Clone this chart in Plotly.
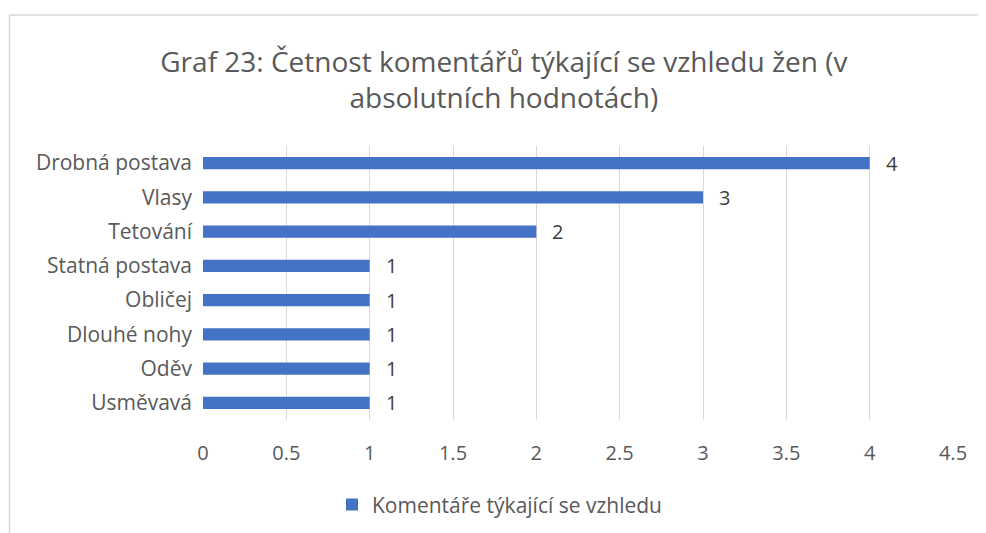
import plotly.graph_objects as go

categories = ["Drobná postava", "Vlasy", "Tetování", "Statná postava", "Obličej",
              "Dlouhé nohy", "Oděv", "Usměvavá"]
values = [4, 3, 2, 1, 1, 1, 1, 1]
tick_vals = [0, 0.5, 1, 1.5, 2, 2.5, 3, 3.5, 4, 4.5]
tick_text = ["0", "0.5", "1", "1.5", "2", "2.5", "3", "3.5", "4", "4.5"]
series_name = "Komentáře týkající se vzhledu"
title_text = "Graf 23: Četnost komentářů týkající se vzhledu žen (v<br>absolutních hodnotách)"

FONT = "Open Sans"
GREY = "#595959"

fig = go.Figure()
fig.add_trace(go.Bar(
    y=categories, x=values, orientation="h", name=series_name,
    marker=dict(color="#4472C4", line=dict(width=0)),
    width=0.36,
))

for c, v in zip(categories, values):
    fig.add_annotation(x=v, y=c, text=str(v), showarrow=False, xanchor="left",
                       xshift=14, font=dict(family=FONT, size=20, color="#404040"))

# chart frame (left and top edges visible)
fig.add_shape(type="line", xref="paper", yref="paper", x0=-0.258, x1=-0.258,
              y0=1.478, y1=-0.5, line=dict(color="#d9d9d9", width=1.5))
fig.add_shape(type="line", xref="paper", yref="paper", x0=-0.258, x1=1.1,
              y0=1.478, y1=1.478, line=dict(color="#d9d9d9", width=1.5))

fig.update_layout(
    width=978, height=525,
    margin=dict(l=195, r=32.5, t=138, b=113, autoexpand=False),
    paper_bgcolor="white", plot_bgcolor="white",
    title=dict(text=title_text, x=0.507, xanchor="center", y=0.879, yanchor="middle",
               font=dict(family=FONT, size=28, color=GREY)),
    font=dict(family=FONT, size=21, color=GREY),
    showlegend=True,
    legend=dict(orientation="h", x=0.172, xanchor="left", y=-0.31, yanchor="middle",
                font=dict(family=FONT, size=21, color=GREY), itemwidth=30),
    bargap=0.64,
)
fig.update_xaxes(range=[0, 4.5], tickvals=tick_vals, ticktext=tick_text,
                 showgrid=True, gridcolor="#d9d9d9", gridwidth=1, automargin=False,
                 zeroline=False, showline=False, ticks="", ticklabelstandoff=19,
                 tickfont=dict(family=FONT, size=20, color=GREY))
fig.update_yaxes(autorange="reversed", showgrid=False, showline=False, ticks="",
                 automargin=False, ticklabelstandoff=10,
                 tickfont=dict(family=FONT, size=21, color=GREY))

fig.write_html("out.html")
